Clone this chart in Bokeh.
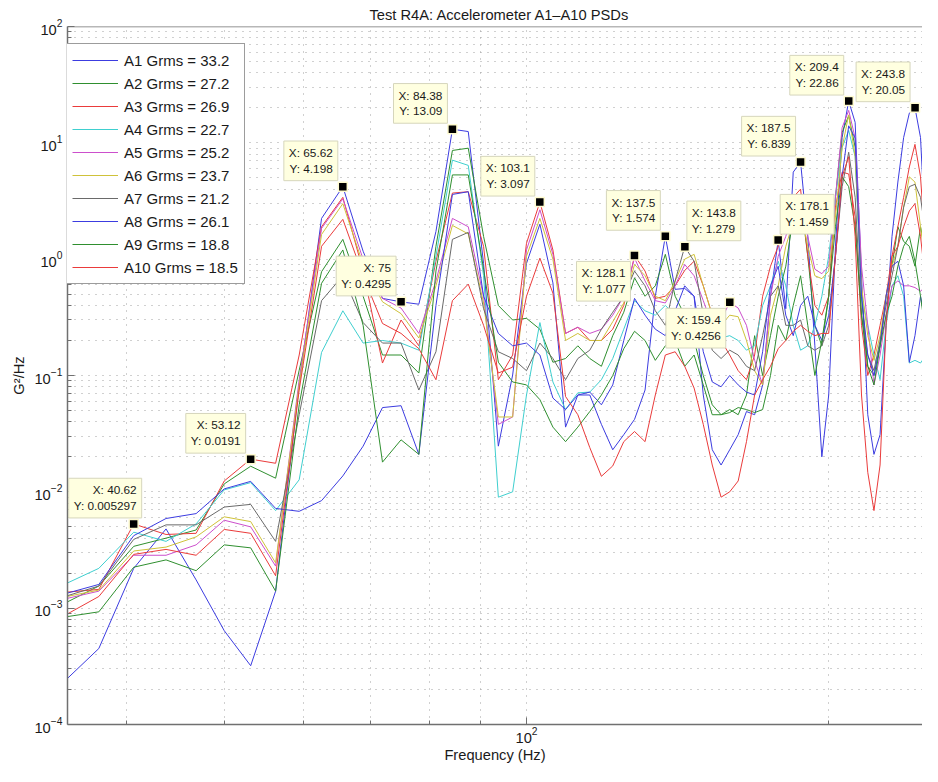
from bokeh.plotting import figure
from bokeh.models import FixedTicker, Label, Legend, LegendItem, Span
from bokeh.embed import file_html
from bokeh.resources import INLINE

FONT = "Liberation Sans"

freq = [34.375, 37.5, 40.625, 43.75, 46.875, 50.0, 53.125, 56.25, 59.375, 62.5,
        65.625, 68.75, 71.875, 75.0, 78.125, 81.25, 84.375, 87.5, 90.625, 93.75,
        96.875, 100.0, 103.125, 106.25, 109.375, 112.5, 115.625, 118.75, 121.875, 125.0,
        128.125, 131.25, 134.375, 137.5, 140.625, 143.75, 146.875, 150.0, 153.125, 156.25,
        159.375, 162.5, 165.625, 168.75, 171.875, 175.0, 178.125, 181.25, 184.375, 187.5,
        190.625, 193.75, 196.875, 200.0, 203.125, 206.25, 209.375, 212.5, 215.625, 218.75,
        221.875, 225.0, 228.125, 231.25, 234.375, 237.5, 240.625, 243.75, 246.875, 250.0,
        253.125, 256.25]

a1 = [2.2e-4, 4.5e-4, 2.2e-3, 4.8e-3, 1.75e-3, 6.4e-4, 3.2e-4, 1.4e-3, 0.083, 2.24,
      4.198, 1.17, 0.46, 0.4295, 0.41, 1.73, 13.09, 12.5, 0.92, 0.0247,
      0.101, 0.92, 2.0, 0.625, 0.036, 0.068, 0.068, 0.038, 0.023, 0.031,
      0.042, 0.075, 0.48, 1.574, 0.55, 0.56, 0.48, 0.068, 0.023, 0.017,
      0.023, 0.031, 0.049, 0.046, 0.083, 0.48, 1.459, 0.375, 5.6, 6.839,
      1.57, 0.18, 0.02, 0.068, 1.29, 11.1, 22.86, 15.0, 0.72, 0.046,
      0.021, 0.031, 0.27, 1.57, 4.6, 11.1, 18.0, 20.05, 11.1, 1.29,
      0.27, 0.1]
a2 = [1.06e-3, 1.55e-3, 3.4e-3, 4.0e-3, 4.7e-3, 0.0117, 0.0166, 0.0131, 0.111, 0.78,
      1.48, 0.48, 0.15, 0.15, 0.105, 1.29, 8.6, 9.0, 1.57, 0.40,
      0.30, 0.31, 0.25, 0.13, 0.14, 0.18, 0.14, 0.12, 0.22, 0.35,
      0.69, 0.48, 0.59, 1.1, 0.48, 0.33, 0.2, 0.1, 0.056, 0.046,
      0.051, 0.046, 0.068, 0.22, 0.1, 0.22, 0.48, 0.87, 2.3, 3.4,
      1.06, 0.27, 0.18, 0.48, 3.4, 12.3, 17.1, 9.2, 0.48, 0.12,
      0.1, 0.18, 0.48, 0.87, 1.9, 1.42, 1.29, 0.87, 1.9, 1.06,
      0.59, 0.40]
a3 = [1.36e-3, 1.45e-3, 5.297e-3, 4.3e-3, 4.4e-3, 0.0124, 0.0191, 0.0176, 0.15, 1.9,
      3.4, 0.79, 0.128, 0.30, 0.18, 0.96, 3.7, 3.8, 1.29, 0.092,
      0.15, 1.37, 3.097, 1.2, 0.23, 0.26, 0.2, 0.2, 0.25, 0.4,
      1.077, 0.79, 0.46, 0.48, 0.59, 0.8, 0.96, 0.59, 0.33, 0.2,
      0.15, 0.11, 0.092, 0.15, 0.48, 0.87, 1.29, 2.3, 3.4, 4.0,
      1.06, 0.4, 0.33, 0.48, 2.8, 5.6, 5.4, 2.3, 0.27, 0.1,
      0.15, 0.27, 0.48, 1.06, 1.9, 3.4, 6.2, 9.7, 5.1, 1.06,
      0.48, 0.33]
a4 = [1.55e-3, 2.2e-3, 4.5e-3, 3.75e-3, 5.3e-3, 0.0104, 0.012, 6.9e-3, 0.0127, 0.158,
      0.36, 0.19, 0.2, 0.19, 0.165, 1.06, 7.1, 6.4, 0.72, 9e-3,
      0.01, 0.068, 0.285, 0.088, 0.051, 0.071, 0.072, 0.092, 0.14, 0.25,
      0.44, 0.36, 0.33, 0.4, 0.33, 0.27, 0.24, 0.22, 0.18, 0.21,
      0.22, 0.2, 0.165, 0.18, 0.4, 0.59, 0.96, 0.59, 0.27, 0.165,
      0.18, 0.27, 0.48, 1.06, 3.4, 9.1, 12.8, 7.6, 0.48, 0.27,
      0.15, 0.092, 0.27, 0.59, 0.72, 0.48, 0.128, 0.135, 0.128, 0.15,
      0.18, 0.2]
a5 = [1.18e-3, 1.4e-3, 2.85e-3, 2.85e-3, 3.5e-3, 5.7e-3, 5.0e-3, 2.3e-3, 0.092, 1.84,
      3.3, 1.0, 0.46, 0.38, 0.23, 0.65, 2.24, 1.9, 0.48, 0.038,
      0.044, 1.2, 2.66, 1.1, 0.23, 0.26, 0.23, 0.25, 0.33, 0.48,
      1.02, 0.65, 0.44, 0.42, 0.59, 0.9, 0.72, 0.44, 0.27, 0.3,
      0.4256, 0.38, 0.27, 0.135, 0.083, 0.48, 1.06, 1.57, 2.6, 3.1,
      1.57, 0.82, 0.75, 0.87, 3.4, 13.5, 19.0, 11.0, 0.87, 0.27,
      0.083, 0.15, 0.33, 0.59, 0.65, 0.59, 0.59, 0.57, 0.53, 0.59,
      0.55, 0.57]
a6 = [1.23e-3, 1.43e-3, 3.1e-3, 3.35e-3, 4.1e-3, 6.1e-3, 5.55e-3, 2.45e-3, 0.083, 1.63,
      3.0, 0.9, 0.43, 0.34, 0.21, 0.59, 1.95, 1.65, 0.42, 0.044,
      0.044, 1.06, 2.24, 1.0, 0.2, 0.23, 0.2, 0.2, 0.29, 0.42,
      0.9, 0.72, 0.48, 0.44, 0.65, 1.0, 1.1, 0.59, 0.33, 0.27,
      0.33, 0.32, 0.2, 0.11, 0.083, 0.33, 0.59, 1.29, 2.1, 2.6,
      1.29, 0.72, 0.68, 0.79, 2.3, 9.1, 17.4, 7.6, 0.59, 0.22,
      0.135, 0.22, 0.48, 0.87, 1.29, 2.8, 5.1, 4.6, 1.9, 0.87,
      0.59, 0.48]
a7 = [1.23e-3, 1.55e-3, 3.9e-3, 5.2e-3, 5.2e-3, 7.4e-3, 7.8e-3, 3.75e-3, 0.046, 0.44,
      0.72, 0.285, 0.19, 0.19, 0.075, 0.16, 1.48, 1.7, 0.375, 0.16,
      0.14, 0.11, 0.19, 0.14, 0.092, 0.14, 0.165, 0.25, 0.35, 0.48,
      0.79, 0.59, 0.36, 0.27, 0.65, 1.279, 0.96, 0.33, 0.165, 0.14,
      0.165, 0.15, 0.12, 0.11, 0.22, 0.48, 0.59, 0.27, 0.27, 0.3,
      0.18, 0.165, 0.18, 0.27, 1.06, 4.2, 8.3, 3.4, 0.33, 0.15,
      0.11, 0.2, 0.4, 0.72, 1.29, 2.8, 4.2, 4.4, 3.4, 1.57,
      0.59, 0.33]
a8 = [1.3e-3, 1.6e-3, 4.2e-3, 5.9e-3, 6.5e-3, 0.0106, 0.0123, 7.2e-3, 6.8e-3, 8.4e-3,
      0.0137, 0.0247, 0.053, 0.055, 0.021, 0.4, 3.6, 3.8, 0.48, 0.23,
      0.18, 0.19, 0.15, 0.064, 0.051, 0.068, 0.072, 0.056, 0.083, 0.2,
      0.46, 0.33, 0.25, 0.22, 0.36, 0.59, 0.48, 0.16, 0.088, 0.08,
      0.1, 0.083, 0.072, 0.068, 0.16, 0.59, 0.87, 0.33, 0.22, 0.4,
      0.48, 0.27, 0.2, 0.33, 1.06, 5.1, 14.0, 11.0, 0.48, 0.15,
      0.1, 0.18, 0.48, 0.87, 0.96, 0.59, 0.13, 0.22, 0.48, 0.27,
      0.1, 0.068]
a9 = [8.3e-4, 9.3e-4, 2.25e-3, 2.6e-3, 2.1e-3, 3.5e-3, 3.3e-3, 1.4e-3, 0.056, 0.62,
      1.2, 0.27, 0.018, 0.028, 0.021, 0.79, 5.3, 5.3, 0.82, 0.13,
      0.088, 0.083, 0.062, 0.036, 0.027, 0.036, 0.049, 0.068, 0.1, 0.17,
      0.24, 0.2, 0.135, 0.18, 0.2, 0.12, 0.15, 0.083, 0.046, 0.046,
      0.048, 0.053, 0.051, 0.048, 0.051, 0.1, 0.27, 0.2, 0.4, 0.72,
      0.27, 0.1, 0.2, 0.48, 1.9, 5.1, 4.2, 1.9, 0.33, 0.12,
      0.083, 0.18, 0.33, 0.48, 0.87, 1.29, 1.57, 0.96, 0.48, 0.22,
      0.27, 0.33]
a10 = [8.3e-4, 1.26e-3, 2.9e-3, 3.2e-3, 2.85e-3, 4.75e-3, 4.4e-3, 1.9e-3, 0.075, 1.29,
       2.2, 0.72, 0.28, 0.23, 0.17, 0.092, 0.44, 0.61, 0.27, 0.105,
       0.118, 0.48, 1.02, 0.51, 0.066, 0.046, 0.024, 0.0136, 0.0167, 0.027,
       0.033, 0.027, 0.068, 0.15, 0.16, 0.12, 0.078, 0.038, 0.017, 9e-3,
       0.01, 0.0124, 0.027, 0.068, 0.092, 0.12, 0.17, 0.2, 0.24, 0.27,
       0.24, 0.22, 0.23, 0.23, 1.06, 5.1, 7.6, 1.57, 0.068, 0.0147,
       6.9e-3, 0.017, 0.27, 1.06, 1.29, 1.9, 2.6, 3.0, 1.57, 0.59,
       0.33, 0.22]

series_names = ["A1 Grms = 33.2", "A2 Grms = 27.2", "A3 Grms = 26.9", "A4 Grms = 22.7",
                "A5 Grms = 25.2", "A6 Grms = 23.7", "A7 Grms = 21.2", "A8 Grms = 26.1",
                "A9 Grms = 18.8", "A10 Grms = 18.5"]
series_vals = [a1, a2, a3, a4, a5, a6, a7, a8, a9, a10]
series_colors = ["#3c3ce0", "#2f8f2f", "#ea3b3b", "#3fcfcf", "#cc4fcc",
                 "#cfc23a", "#6a6a6a", "#3c3ce0", "#2f8f2f", "#ea3b3b"]

tip_freq = [40.62, 53.12, 65.62, 75, 84.38, 103.1, 128.1, 137.5, 143.8, 159.4,
            178.1, 187.5, 209.4, 243.8]
tip_psd = [0.005297, 0.0191, 4.198, 0.4295, 13.09, 3.097, 1.077, 1.574, 1.279, 0.4256,
           1.459, 6.839, 22.86, 20.05]
tip_side = ["BRX", "BR", "BR", "BR", "BR", "BR", "TR", "BR", "BL", "TR", "BL", "BR", "BR", "BR"]

x_major = [100]
x_minor = [40, 50, 60, 70, 80, 90, 200]
y_major = [1e-4, 1e-3, 1e-2, 1e-1, 1e0, 1e1, 1e2]
y_minor = [m * d for d in [1e-4, 1e-3, 1e-2, 1e-1, 1e0, 1e1] for m in range(2, 10)]

for s in series_vals:
    assert len(s) == len(freq), len(s)

p = figure(width=922, height=766, x_axis_type="log", y_axis_type="log",
           x_range=(34.9, 248.0), y_range=(1e-4, 1e2),
           output_backend="svg", toolbar_location=None,
           min_border_left=67, min_border_right=0, min_border_top=26, min_border_bottom=42)
p.outline_line_color = None
p.background_fill_color = "white"
p.border_fill_color = "white"

p.title.text = "Test R4A: Accelerometer A1\u2013A10 PSDs"
p.title.align = "left"
p.title.offset = 302
p.title.text_font = FONT
p.title.text_font_size = "14.7px"
p.title.text_font_style = "normal"
p.title.text_color = "#1a1a1a"
p.title.standoff = 8

p.xaxis.ticker = FixedTicker(ticks=x_major, minor_ticks=x_minor)
p.yaxis.ticker = FixedTicker(ticks=y_major, minor_ticks=y_minor)
p.xaxis.axis_label = "Frequency (Hz)"
p.yaxis.axis_label = "G\u00b2/Hz"
for ax in (p.xaxis[0], p.yaxis[0]):
    ax.axis_line_color = "#707070"
    ax.axis_line_width = 1.5
    ax.major_tick_in = 7
    ax.major_tick_out = 0
    ax.minor_tick_in = 4
    ax.minor_tick_out = 0
    ax.major_tick_line_color = "#707070"
    ax.minor_tick_line_color = "#707070"
    ax.major_label_text_font = FONT
    ax.major_label_text_font_size = "14.7px"
    ax.major_label_text_color = "#1a1a1a"
    ax.axis_label_text_font = FONT
    ax.axis_label_text_font_size = "14.7px"
    ax.axis_label_text_font_style = "normal"
    ax.axis_label_text_color = "#1a1a1a"
p.xaxis.major_label_standoff = 2
p.xaxis.axis_label_standoff = 1
p.yaxis.major_label_standoff = 5
p.yaxis.axis_label_standoff = 4

for g in (p.xgrid[0], p.ygrid[0]):
    g.grid_line_color = "#a0a0a0"
    g.grid_line_dash = "1 6"
    g.grid_line_width = 1
    g.minor_grid_line_color = "#a0a0a0"
    g.minor_grid_line_dash = "1 6"
    g.minor_grid_line_width = 1

p.add_layout(Span(location=1e2, dimension="width", line_color="#707070", line_width=1.5))

items = []
for name, vals, color in zip(series_names, series_vals, series_colors):
    r = p.line(freq, vals, line_color=color, line_width=1)
    items.append(LegendItem(label=name, renderers=[r]))

legend = Legend(items=items, location=(-2, 440))
legend.border_line_color = "#3a3a3a"
legend.border_line_width = 1
legend.background_fill_color = "white"
legend.background_fill_alpha = 1.0
legend.label_text_font = FONT
legend.label_text_font_size = "15px"
legend.label_text_color = "#1a1a1a"
legend.glyph_width = 46
legend.glyph_height = 20
legend.label_height = 20
legend.spacing = 3
legend.padding = 6
legend.label_standoff = 6
legend.margin = 0
p.add_layout(legend)

p.scatter(tip_freq, tip_psd, marker="square", size=9, fill_color="black",
          line_color="#fffbd0", line_width=1.5)

for f, v, side in zip(tip_freq, tip_psd, tip_side):
    txt = f"X: {f}\nY: {v}"
    if side == "BR":
        align, base, dx, dy = "right", "bottom", -5, 6
    elif side == "BRX":
        align, base, dx, dy = "right", "bottom", 8, 6
    elif side == "TR":
        align, base, dx, dy = "right", "top", -4, -6
    else:
        align, base, dx, dy = "left", "bottom", 2, 6
    p.add_layout(Label(x=f, y=v, x_offset=dx, y_offset=dy, text=txt,
                       text_align=align, text_baseline=base,
                       text_font=FONT, text_font_size="11.8px", text_color="#1a1a1a",
                       text_line_height=1.12,
                       background_fill_color="#ffffe0", background_fill_alpha=1.0,
                       border_line_color="#d6d6bc", border_line_width=1,
                       padding=5))

open("out.html", "w").write(file_html(p, INLINE))
